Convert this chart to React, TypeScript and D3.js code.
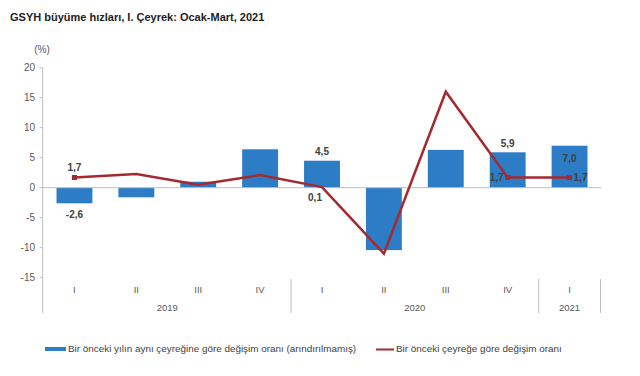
import React from "react";
import * as d3 from "d3";

const quarters = ["I", "II", "III", "IV", "I", "II", "III", "IV", "I"];
const years = ["2019", "2020", "2021"];
const yearSpans = [4, 4, 1];
const yoy = [-2.6, -1.6, 1.0, 6.4, 4.5, -10.4, 6.3, 5.9, 7.0];
const qoq = [1.7, 2.3, 0.5, 2.1, 0.1, -11.0, 16.0, 1.7, 1.7];
const yTicks = [20, 15, 10, 5, 0, -5, -10, -15];
const barLabels: { i: number; text: string; pos: string }[] = [
  { i: 0, text: "-2,6", pos: "below" },
  { i: 4, text: "4,5", pos: "above" },
  { i: 7, text: "5,9", pos: "above" },
  { i: 8, text: "7,0", pos: "inside" },
];
const lineLabels: { i: number; text: string; pos: string }[] = [
  { i: 0, text: "1,7", pos: "above" },
  { i: 4, text: "0,1", pos: "below" },
  { i: 7, text: "1,7", pos: "left" },
  { i: 8, text: "1,7", pos: "right" },
];
const markerIdx = [0, 7, 8];
const title = "GSYH büyüme hızları, I. Çeyrek: Ocak-Mart, 2021";
const legendBar = "Bir önceki yılın aynı çeyreğine göre değişim oranı (arındırılmamış)";
const legendLine = "Bir önceki çeyreğe göre değişim oranı";

const BLUE = "#2c7dc6";
const RED = "#a52a2f";
const FONT = "'Liberation Sans', Arial, sans-serif";

export default function App() {
  const W = 640, H = 376;
  const x = d3
    .scaleBand<number>()
    .domain(d3.range(quarters.length))
    .range([43.5, 600.5])
    .paddingInner(0.42)
    .paddingOuter(0.21);
  const y = d3.scaleLinear().domain([-20, 20]).range([307.7, 67.7]);
  const cx = (i: number) => (x(i) as number) + x.bandwidth() / 2;
  const step = x.step();
  const x0 = 43.5;

  const line = d3
    .line<number>()
    .x((_, i) => cx(i))
    .y((d) => y(d));

  let acc = 0;
  const yearGroups = years.map((yr, k) => {
    const start = x0 + acc * step;
    acc += yearSpans[k];
    const end = x0 + acc * step;
    return { yr, start, end };
  });

  return (
    <svg width={W} height={H} style={{ position: "absolute", left: 0, top: 0, background: "#fff" }} fontFamily={FONT}>
      <rect width={W} height={H} fill="#fff" />
      <text x={10} y={21} fontSize={11} fontWeight="bold" fill="#222">{title}</text>
      <text x={42} y={53} fontSize={10} fill="#555" textAnchor="middle">(%)</text>

      {/* y axis */}
      <line x1={42.7} x2={42.7} y1={y(20)} y2={313} stroke="#bfbfbf" />
      {yTicks.map((t) => (
        <g key={t}>
          <line x1={39.5} x2={42.7} y1={y(t)} y2={y(t)} stroke="#bfbfbf" />
          <text x={35} y={y(t)} dy="0.35em" fontSize={10} fill="#595959" textAnchor="end">{t}</text>
        </g>
      ))}

      {/* bars */}
      {yoy.map((v, i) => (
        <rect key={i} x={x(i)} width={x.bandwidth()} y={y(Math.max(0, v))} height={Math.abs(y(v) - y(0))} fill={BLUE} />
      ))}

      {/* zero line */}
      <line x1={42.7} x2={601.5} y1={y(0)} y2={y(0)} stroke="#bfbfbf" />

      {/* line */}
      <path d={line(qoq) || ""} fill="none" stroke={RED} strokeWidth={2.5} strokeLinejoin="miter" />
      {markerIdx.map((i) => (
        <rect key={i} x={cx(i) - 2.5} y={y(qoq[i]) - 2.5} width={5} height={5} fill={RED} />
      ))}

      {/* bar labels */}
      {barLabels.map((l) => {
        const v = yoy[l.i];
        let yy = y(v);
        if (l.pos === "above") yy = y(v) - 9;
        else if (l.pos === "below") yy = y(v) + 11;
        else yy = y(v) + 13;
        return (
          <text key={"b" + l.i} x={cx(l.i)} y={yy} dy="0.35em" fontSize={10} fontWeight="bold" fill="#404040" textAnchor="middle">{l.text}</text>
        );
      })}
      {/* line labels */}
      {lineLabels.map((l) => {
        const v = qoq[l.i];
        let xx = cx(l.i), yy = y(v), anchor = "middle";
        if (l.pos === "above") yy = y(v) - 10;
        else if (l.pos === "below") { yy = y(v) + 10; xx = cx(l.i) - 7; }
        else if (l.pos === "left") { xx = cx(l.i) - 4; anchor = "end"; }
        else { xx = cx(l.i) + 4; anchor = "start"; }
        return (
          <text key={"l" + l.i} x={xx} y={yy} dy="0.35em" fontSize={10} fontWeight="bold" fill="#404040" textAnchor={anchor}>{l.text}</text>
        );
      })}

      {/* category axis */}
      {quarters.map((q, i) => (
        <text key={"q" + i} x={cx(i)} y={290} dy="0.35em" fontSize={9.5} fill="#595959" textAnchor="middle">{q}</text>
      ))}
      {yearGroups.map((g) => (
        <g key={g.yr}>
          <text x={(g.start + g.end) / 2} y={308} dy="0.35em" fontSize={9.5} fill="#595959" textAnchor="middle">{g.yr}</text>
          <line x1={g.end} x2={g.end} y1={279} y2={313} stroke="#bfbfbf" />
        </g>
      ))}

      {/* legend */}
      <rect x={45} y={347} width={21} height={4} fill={BLUE} />
      <text x={68} y={349} dy="0.35em" fontSize={9.9} fill="#404040">{legendBar}</text>
      <line x1={376} x2={394} y1={349.5} y2={349.5} stroke={RED} strokeWidth={2} />
      <text x={396} y={349} dy="0.35em" fontSize={9.9} fill="#404040">{legendLine}</text>
    </svg>
  );
}
